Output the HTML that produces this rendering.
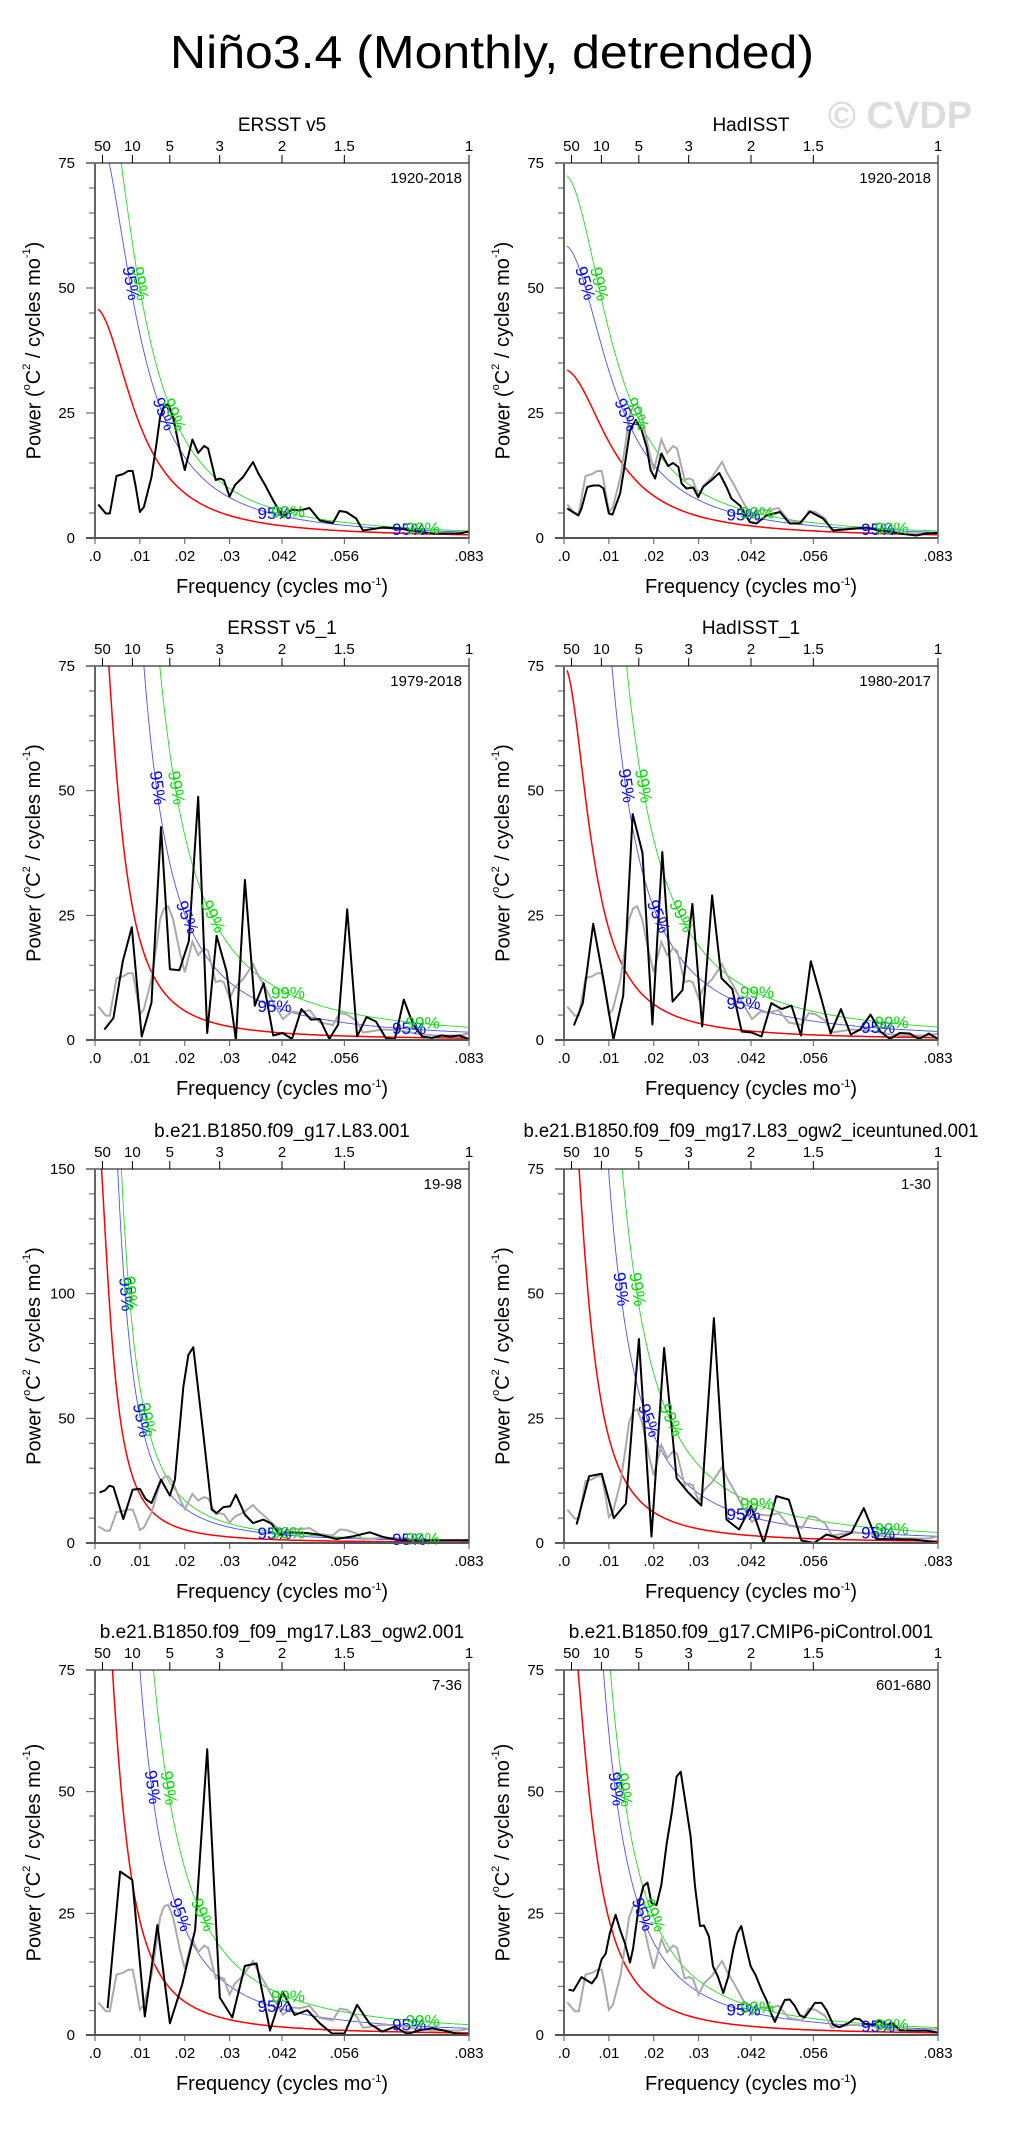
<!DOCTYPE html>
<html><head><meta charset="utf-8"><title>Niño3.4 spectra</title>
<style>html,body{margin:0;padding:0;background:#fff}svg{display:block}text{font-family:"Liberation Sans",sans-serif}</style>
</head><body>
<svg id="fig" width="1027" height="2136" viewBox="0 0 1027 2136" xmlns="http://www.w3.org/2000/svg">
<rect width="1027" height="2136" fill="#fff"/>
<text x="492" y="68" font-size="46" text-anchor="middle" textLength="644" lengthAdjust="spacingAndGlyphs">Niño3.4 (Monthly, detrended)</text>
<text x="900" y="128" font-size="38" font-weight="bold" fill="#dcdcdc" text-anchor="middle">© CVDP</text>
</svg>
<script>
// ERSST v5 1920-2018 (also grey reference in other panels)
const p1Freq=[.00074,.0024,.0033,.0048,.0063,.0074,.0084,.0091,.0100,.0109,.0126,.0137,.0145,.0154,.0163,.0174,.0189,.0200,.0217,.0230,.0243,.0252,.0269,.0278,.0287,.0300,.0312,.0330,.0352,.0364,.0379,.0397,.0419,.0438,.0456,.0478,.0501,.0530,.0545,.0560,.0582,.0597,.0642,.0679,.0716,.0753,.0812,.0833];
const p1Power=[6.7,4.9,4.9,12.4,12.8,13.4,13.4,10.2,5.2,6.2,12.2,18.9,24.2,26.4,26.8,24.2,17.6,13.6,19.7,17.0,18.4,17.9,11.6,11.9,11.6,8.3,10.6,12.2,15.2,12.9,10.6,7.5,4.2,5.7,5.5,6.0,3.5,3.0,5.4,5.2,3.9,1.5,2.1,1.9,1.3,0.9,0.9,1.3];
// HadISST 1920-2018
const p2Freq=[.00074,.0032,.0039,.0052,.0065,.0079,.0088,.0100,.0108,.0125,.0136,.0147,.0160,.0173,.0184,.0193,.0203,.0217,.0232,.0243,.0255,.0262,.0273,.0288,.0299,.0310,.0329,.0346,.0362,.0373,.0392,.0414,.0429,.0451,.0481,.0503,.0525,.0548,.0577,.0600,.0674,.0703,.0748,.0785,.0807,.0833];
const p2Power=[5.9,4.5,5.9,10.2,10.5,10.5,9.9,4.9,4.7,8.9,14.9,21.6,23.6,21.6,18.2,13.6,11.9,16.9,14.4,15.0,14.2,10.9,9.9,10.1,8.2,10.2,11.6,13.0,10.2,7.9,6.5,3.2,2.9,4.5,5.2,2.9,2.9,5.3,3.9,1.5,2.1,1.5,0.9,0.5,0.9,1.0];
// ERSST v5_1 1979-2018
const p3Freq=[.0021,.0041,.0062,.0082,.0104,.0126,.0147,.0167,.0188,.0209,.0230,.0250,.0271,.0293,.0314,.0334,.0356,.0376,.0397,.0418,.0439,.0460,.0481,.0501,.0522,.0542,.0562,.0584,.0605,.0626,.0648,.0668,.0688,.0709,.0729,.0751,.0772,.0792,.0812,.0833];
const p3Power=[2.1,4.4,15.8,22.6,0.7,7.5,42.7,14.2,14.0,19.8,48.8,1.4,20.9,13.8,0,32.1,6.9,11.4,0.9,1.4,0.2,6.2,4.1,4.2,0.2,3.1,26.2,0.7,4.6,3.7,0.4,0.1,8.1,3.1,0.7,0.4,0.9,0.7,0.9,0.2];
// HadISST_1 1980-2017
const p4Freq=[.0022,.0042,.0065,.0088,.0110,.0132,.0153,.0175,.0197,.0219,.0242,.0264,.0286,.0308,.0330,.0351,.0375,.0396,.0418,.0440,.0462,.0485,.0507,.0528,.0550,.0574,.0594,.0617,.0639,.0660,.0683,.0705,.0726,.0748,.0770,.0791,.0813,.0833];
const p4Power=[2.9,7.4,23.3,12.1,0.1,8.9,45.3,37.5,3.1,37.7,7.7,10.0,27.3,2.7,29.0,12.4,10.2,1.7,1.5,0.7,7.4,6.2,6.9,0.9,15.8,8.1,1.3,6.2,1.1,2.1,5.1,1.7,0.2,1.4,1.3,0.2,1.3,0.2];
// b.e21.B1850.f09_g17.L83.001 19-98
const p5Freq=[.0010,.0022,.0032,.0041,.0063,.0084,.0100,.0113,.0126,.0147,.0167,.0178,.0197,.0208,.0219,.0241,.0260,.0271,.0286,.0301,.0314,.0334,.0352,.0375,.0393,.0412,.0434,.0471,.0501,.0538,.0575,.0612,.0642,.0679,.0753,.0833];
const p5Power=[20.3,21.1,23.0,22.5,9.6,21.4,21.7,17.6,16.0,25.4,19.0,25.4,62.8,75.5,78.5,44.1,13.4,12.0,14.4,14.7,19.4,11.4,8.0,9.4,7.8,3.3,4.3,4.0,3.3,1.6,2.7,4.3,2.4,1.1,1.1,1.1];
// b.e21.B1850.f09_f09_mg17.L83_ogw2_iceuntuned.001 1-30
const p6Freq=[.0028,.0056,.0084,.0111,.0138,.0167,.0195,.0223,.0251,.0278,.0306,.0334,.0362,.0390,.0417,.0445,.0473,.0501,.0529,.0557,.0585,.0612,.0640,.0668,.0696,.0778,.0833];
const p6Power=[3.7,13.4,13.9,5.0,7.9,40.9,1.3,39.1,13.0,10.0,7.5,45.1,4.7,2.7,7.4,0,9.4,8.7,0.5,0,1.7,1.0,2.0,7.0,0.8,0.7,0.1];
// b.e21.B1850.f09_f09_mg17.L83_ogw2.001 7-36
const p7Freq=[.0028,.0056,.0083,.0111,.0139,.0167,.0194,.0223,.0250,.0278,.0306,.0334,.0360,.0390,.0418,.0445,.0473,.0501,.0528,.0556,.0584,.0612,.0640,.0668,.0696,.0724,.0751,.0779,.0807,.0833];
const p7Power=[5.5,33.6,31.9,3.8,22.6,2.4,10.3,21.6,58.7,7.7,3.6,14.2,14.7,0.9,8.9,4.1,5.1,2.4,0.3,0.3,6.2,2.3,0.7,1.7,0.2,1.0,1.4,0.9,0.2,0.1];
// b.e21.B1850.f09_g17.CMIP6-piControl.001 601-680
const p8Freq=[.0010,.0021,.0039,.0062,.0073,.0084,.0093,.0102,.0115,.0125,.0136,.0147,.0154,.0168,.0177,.0186,.0195,.0206,.0217,.0229,.0240,.0251,.0260,.0271,.0282,.0292,.0303,.0312,.0323,.0332,.0343,.0355,.0366,.0377,.0386,.0395,.0407,.0416,.0427,.0440,.0451,.0461,.0470,.0481,.0492,.0503,.0514,.0525,.0536,.0548,.0559,.0574,.0585,.0600,.0614,.0633,.0648,.0659,.0670,.0689,.0703,.0718,.0733,.0748,.0778,.0807,.0833];
const p8Power=[9.3,9.1,11.9,10.6,12.0,15.6,16.7,20.9,24.7,21.6,18.8,14.9,17.8,27.4,30.6,31.3,27.1,26.7,30.9,39.5,45.6,53.1,54.1,47.6,40.8,30.6,22.4,22.5,20.2,14.1,12.0,8.6,12.0,17.5,20.9,22.4,17.5,14.1,12.3,9.3,7.2,4.5,2.7,5.1,7.2,7.3,6.0,4.1,3.6,5.1,6.6,6.6,5.1,2.1,1.6,2.4,3.4,3.2,2.3,2.1,2.9,2.1,2.4,1.0,0.9,0.9,0.5];
// red-noise model parameters per panel: lag-1 r, scale K, 95% and 99% multipliers
const redR=[0.94,0.93,0.97,0.96,0.978,0.97,0.97,0.965];
const redK=[0.1656,0.165,0.095,0.12,0.085,0.10,0.111,0.12];
const mult95=[1.8,1.74,4.3,3.7,2.6,3.5,3.2,2.6];
const mult99=[2.2,2.16,7.0,5.6,3.2,5.5,5.0,3.3];
const titles=["ERSST v5","HadISST","ERSST v5_1","HadISST_1","b.e21.B1850.f09_g17.L83.001","b.e21.B1850.f09_f09_mg17.L83_ogw2_iceuntuned.001","b.e21.B1850.f09_f09_mg17.L83_ogw2.001","b.e21.B1850.f09_g17.CMIP6-piControl.001"];
const years=["1920-2018","1920-2018","1979-2018","1980-2017","19-98","1-30","7-36","601-680"];
const yMaxes=[75,75,75,75,150,75,75,75];
const xTickVals=[0,0.01,0.02,0.03,1/24,1/18,1/12];
const xTickLabels=[".0",".01",".02",".03",".042",".056",".083"];
const periodVals=[50,10,5,3,2,1.5,1];
const periodLabels=["50","10","5","3","2","1.5","1"];

const freqs=[p1Freq,p2Freq,p3Freq,p4Freq,p5Freq,p6Freq,p7Freq,p8Freq];
const powers=[p1Power,p2Power,p3Power,p4Power,p5Power,p6Power,p7Power,p8Power];
const NS="http://www.w3.org/2000/svg";
const svg=document.getElementById('fig');
const lefts=[95,564];const tops=[163,666,1169,1670];const heights=[375,374,374,365];
const PW=374,FMAX=1/12;
function mk(tag,attrs,parent){const e=document.createElementNS(NS,tag);for(const k in attrs)e.setAttribute(k,attrs[k]);(parent||svg).appendChild(e);return e;}
function red(i,f){const r=redR[i];return redK[i]/((1-r)*(1-r)+2*r*(1-Math.cos(2*Math.PI*f)));}

for(let i=0;i<8;i++){
  const L=lefts[i%2],T=tops[Math.floor(i/2)],H=heights[Math.floor(i/2)],ym=yMaxes[i];
  const xs=f=>L+f/FMAX*PW, ys=v=>T+H-v/ym*H;
  const g=mk('g',{});
  
  
  const cp=mk('clipPath',{id:'clip'+i},g);mk('rect',{x:L,y:T,width:PW,height:H},cp);
  const plot=mk('g',{'clip-path':'url(#clip'+i+')'},g);
  const curves=[[1,'#ff0000',1.5,'red-noise-curve'],[mult95[i],'#4f4fff',0.9,'sig95-curve'],[mult99[i],'#22dd22',0.9,'sig99-curve']];
  const fs=[];for(let f=0.0007;f<=FMAX+1e-6;f+=0.0004)fs.push(f);
  curves.forEach(c=>{
    const d=fs.map((f,j)=>(j?'L':'M')+xs(f).toFixed(1)+','+Math.max(T-200,ys(red(i,f)*c[0])).toFixed(1)).join('');
    const p=mk('path',{d:d,fill:'none',stroke:c[1],'stroke-width':c[2]},plot);
    
    
  });
  if(i>0){
    const d=p1Freq.map((f,j)=>(j?'L':'M')+xs(f).toFixed(1)+','+ys(p1Power[j]).toFixed(1)).join('');
    const p=mk('path',{d:d,fill:'none',stroke:'#aaaaaa','stroke-width':2},plot);
    
    
  }
  const d=freqs[i].map((f,j)=>(j?'L':'M')+xs(f).toFixed(1)+','+ys(powers[i][j]).toFixed(1)).join('');
  const bl=mk('path',{d:d,fill:'none',stroke:'#000','stroke-width':2,'stroke-linejoin':'round'},plot);
  
  
  [[mult95[i],'95%','#0000ff'],[mult99[i],'99%','#00dd00']].forEach(c=>{
    [0.68,0.33].forEach(frac=>{
      let f=0.0007;while(f<FMAX&&red(i,f)*c[0]>frac*ym)f+=0.0001;
      if(f>=FMAX)return;
      const x1=xs(f),y1=ys(red(i,f)*c[0]),x2=xs(f+0.0003),y2=ys(red(i,f+0.0003)*c[0]);
      const ang=Math.atan2(y2-y1,x2-x1)*180/Math.PI;
      const t=mk('text',{x:x1,y:y1,'font-size':17,fill:c[2],'text-anchor':'middle','dominant-baseline':'middle',transform:'rotate('+ang.toFixed(1)+' '+x1.toFixed(1)+' '+y1.toFixed(1)+')'},g);
      t.textContent=c[1];
      
      
    });
    [0.04,0.07].forEach((f0,k)=>{
      const f=f0+(c[1]==='99%'?0.003:0);
      const t=mk('text',{x:xs(f),y:ys(red(i,f)*c[0])+5,'font-size':17,fill:c[2],'text-anchor':'middle'},g);
      t.textContent=c[1];
      
      
    });
  });
  mk('line',{x1:L,y1:T,x2:L+PW,y2:T,stroke:'#000','stroke-width':1},g);
  mk('line',{x1:L+PW,y1:T,x2:L+PW,y2:T+H,stroke:'#555','stroke-width':1.5},g);
  mk('line',{x1:L-9,y1:T,x2:L,y2:T,stroke:'#555','stroke-width':1.5},g);
  mk('line',{x1:L,y1:T,x2:L,y2:T+H,stroke:'#666','stroke-width':2},g);
  mk('line',{x1:L-9,y1:T+H,x2:L+PW,y2:T+H,stroke:'#555','stroke-width':2},g);
  const major=ym/3,minor=ym/15;
  for(let v=0;v<=ym+1e-6;v+=minor){
    const isMaj=Math.abs(v/major-Math.round(v/major))<1e-6;
    mk('line',{x1:L-(isMaj?9:6),y1:ys(v),x2:L,y2:ys(v),stroke:'#555','stroke-width':1},g);
    if(isMaj){const t=mk('text',{x:L-20,y:ys(v)+5,'font-size':15,'text-anchor':'end'},g);t.textContent=String(Math.round(v));
      
      }
  }
  xTickVals.forEach((f,k)=>{
    mk('line',{x1:xs(f),y1:T+H,x2:xs(f),y2:T+H+6,stroke:'#555','stroke-width':1},g);
    const t=mk('text',{x:xs(f),y:T+H+23,'font-size':15,'text-anchor':'middle'},g);t.textContent=xTickLabels[k];
    
    
  });
  periodVals.forEach((p,k)=>{
    const x=xs(1/(12*p));
    mk('line',{x1:x,y1:T-8,x2:x,y2:T,stroke:'#000','stroke-width':1},g);
    const t=mk('text',{x:x,y:T-12,'font-size':15,'text-anchor':'middle'},g);t.textContent=periodLabels[k];
    
    
  });
  const tt=mk('text',{x:L+PW/2,y:T-32,'font-size':19,'text-anchor':'middle'},g);tt.textContent=titles[i];
  if(titles[i].length>40){tt.setAttribute('textLength','455');tt.setAttribute('lengthAdjust','spacingAndGlyphs');}
  
  
  const yr=mk('text',{x:L+PW-7,y:T+20,'font-size':15,'text-anchor':'end'},g);yr.textContent=years[i];
  
  
  const xt=mk('text',{x:L+PW/2,y:T+H+55,'font-size':20,'text-anchor':'middle'},g);
  xt.innerHTML='Frequency (cycles mo<tspan dy="-8" font-size="11">-1</tspan><tspan dy="8">)</tspan>';
  
  
  const cy=T+H/2;
  const yt=mk('text',{x:L-60,y:cy,'font-size':20,'text-anchor':'middle',transform:'rotate(-90 '+(L-60)+' '+cy+')','dominant-baseline':'middle'},g);
  yt.innerHTML='Power (<tspan dy="-8" font-size="11">o</tspan><tspan dy="8">C</tspan><tspan dy="-8" font-size="11">2</tspan><tspan dy="8"> / cycles mo</tspan><tspan dy="-8" font-size="11">-1</tspan><tspan dy="8">)</tspan>';
  
  
}
</script>
</body></html>
